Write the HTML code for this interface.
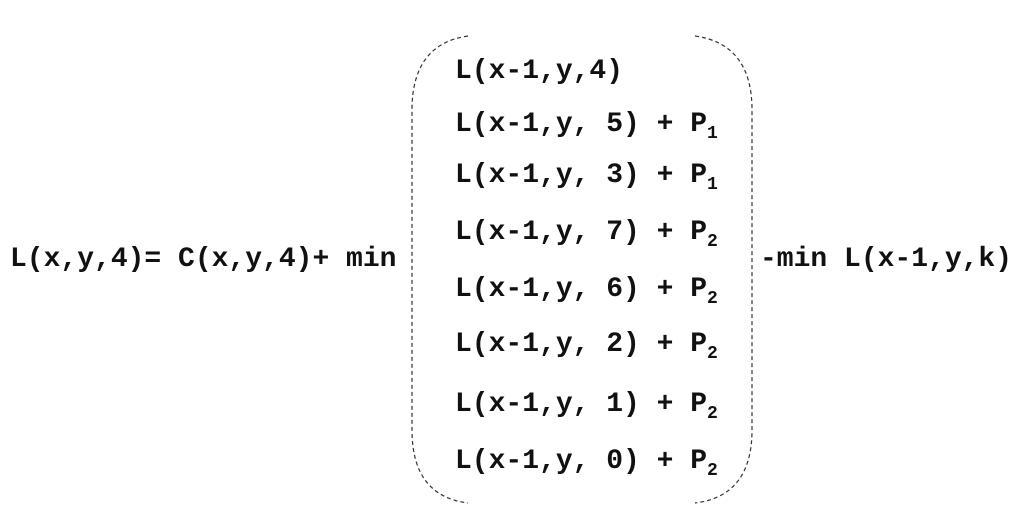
<!DOCTYPE html>
<html><head><style>
body{margin:0;width:1024px;height:523px;background:#fff;position:relative;overflow:hidden;font-family:"Liberation Mono","Courier New",monospace;font-weight:bold;font-size:28px;color:#111;}
.t{position:absolute;line-height:28px;white-space:pre;}
sub{font-size:18px;vertical-align:-7px;line-height:0;}
</style></head><body>
<svg width="1024" height="523" style="position:absolute;left:0;top:0">
<g fill="none" stroke="#333" stroke-width="1.2" stroke-dasharray="4,3">
<path d="M468 36 Q412 44 412 110 L412 430 Q412 496 468 503"/>
<path d="M695 36 Q752 44 752 110 L752 430 Q752 496 695 503"/>
</g></svg>
<div class="t" style="left:10px;top:246px">L(x,y,4)= C(x,y,4)+ min</div>
<div class="t" style="left:760px;top:246px">-min L(x-1,y,k)</div>
<div class="t" style="left:455px;top:58px">L(x-1,y,4)</div>
<div class="t" style="left:455px;top:111px">L(x-1,y, 5) + P<sub>1</sub></div>
<div class="t" style="left:455px;top:162px">L(x-1,y, 3) + P<sub>1</sub></div>
<div class="t" style="left:455px;top:219px">L(x-1,y, 7) + P<sub>2</sub></div>
<div class="t" style="left:455px;top:276px">L(x-1,y, 6) + P<sub>2</sub></div>
<div class="t" style="left:455px;top:331px">L(x-1,y, 2) + P<sub>2</sub></div>
<div class="t" style="left:455px;top:391px">L(x-1,y, 1) + P<sub>2</sub></div>
<div class="t" style="left:455px;top:448px">L(x-1,y, 0) + P<sub>2</sub></div>
</body></html>
